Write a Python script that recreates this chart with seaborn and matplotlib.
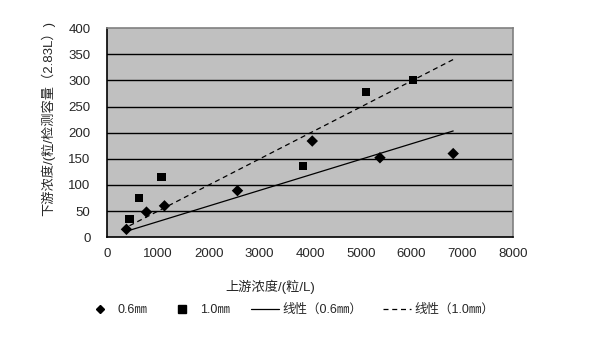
import numpy as np
import pandas as pd
import matplotlib
matplotlib.use('Agg')
import matplotlib.pyplot as plt
from matplotlib.lines import Line2D
import seaborn as sns

sns.set_style('white')
plt.rcParams['font.family'] = ['Liberation Sans', 'Noto Sans CJK SC', 'DejaVu Sans']

# upstream concentration (particles/L) vs downstream counts
x_06 = [380, 775, 1130, 2570, 4045, 5380, 6825]
y_06 = [15, 48, 60, 89, 184, 152, 160]
x_10 = [440, 636, 1071, 3856, 5110, 6030]
y_10 = [34, 75, 116, 137, 277, 300]
x_ticks = [0, 1000, 2000, 3000, 4000, 5000, 6000, 7000, 8000]
y_ticks = [0, 50, 100, 150, 200, 250, 300, 350, 400]
labels = ['0.6㎜', '1.0㎜', '线性（0.6㎜）', '线性（1.0㎜）']

df = pd.DataFrame({
    'x': x_06 + x_10,
    'y': y_06 + y_10,
    'size': [labels[0]] * len(x_06) + [labels[1]] * len(x_10),
})

# excel-style linear trendlines forced through origin
x_end = max(x_06 + x_10)
k06 = np.dot(x_06, y_06) / np.dot(x_06, x_06)
k10 = np.dot(x_10, y_10) / np.dot(x_10, x_10)
tx06 = np.array([min(x_06), x_end])
tx10 = np.array([min(x_10), x_end])

fig, ax = plt.subplots(figsize=(6.09, 3.61), dpi=100)
fig.subplots_adjust(left=0.176, right=0.842, top=0.922, bottom=0.343)
ax.set_facecolor('#c0c0c0')

for yt in y_ticks[1:-1]:
    ax.axhline(yt, color='black', lw=1.0, zorder=1)

sns.lineplot(x=tx06, y=k06 * tx06, ax=ax, color='black', lw=0.9, zorder=2)
sns.lineplot(x=tx10, y=k10 * tx10, ax=ax, color='black', lw=0.9,
             linestyle=(0, (4, 3)), zorder=2)
sns.scatterplot(data=df, x='x', y='y', style='size', markers={labels[0]: 'D', labels[1]: 's'},
                color='black', s=34, edgecolor='black', linewidth=0, legend=False, ax=ax, zorder=3)

ax.set_xlim(0, 8000)
ax.set_ylim(0, 400)
ax.set_xticks(x_ticks)
ax.set_yticks(y_ticks)
ax.tick_params(axis='x', direction='out', length=4, width=1, color='black', labelsize=9.5, pad=4)
ax.tick_params(axis='y', length=0, labelsize=9.5, pad=12)

for side in ['top', 'right']:
    ax.spines[side].set_color('#808080')
    ax.spines[side].set_linewidth(1.2)
for side in ['left', 'bottom']:
    ax.spines[side].set_color('black')
    ax.spines[side].set_linewidth(1.2)

ax.set_xlabel('')
ax.set_ylabel('')
fig.text(270 / 609, 1 - 287 / 361, '上游浓度/(粒/L)', ha='center', va='center', fontsize=9.5)
fig.text(48 / 609, 1 - 118 / 361, '下游浓度/(粒/检测容量（2.83L）)', ha='center', va='center',
         rotation=90, fontsize=9.5)

handles = [
    Line2D([], [], marker='D', color='black', ls='none', markersize=4.5),
    Line2D([], [], marker='s', color='black', ls='none', markersize=5.5),
    Line2D([], [], color='black', lw=0.9),
    Line2D([], [], color='black', lw=0.9, linestyle=(0, (4, 3))),
]
fig.legend(handles, labels, loc='center', bbox_to_anchor=(0.477, 1 - 310 / 361), ncol=4,
           frameon=False, fontsize=9, handlelength=2.2, columnspacing=1.7, handletextpad=0.3)

plt.savefig('out.png', dpi=100)
